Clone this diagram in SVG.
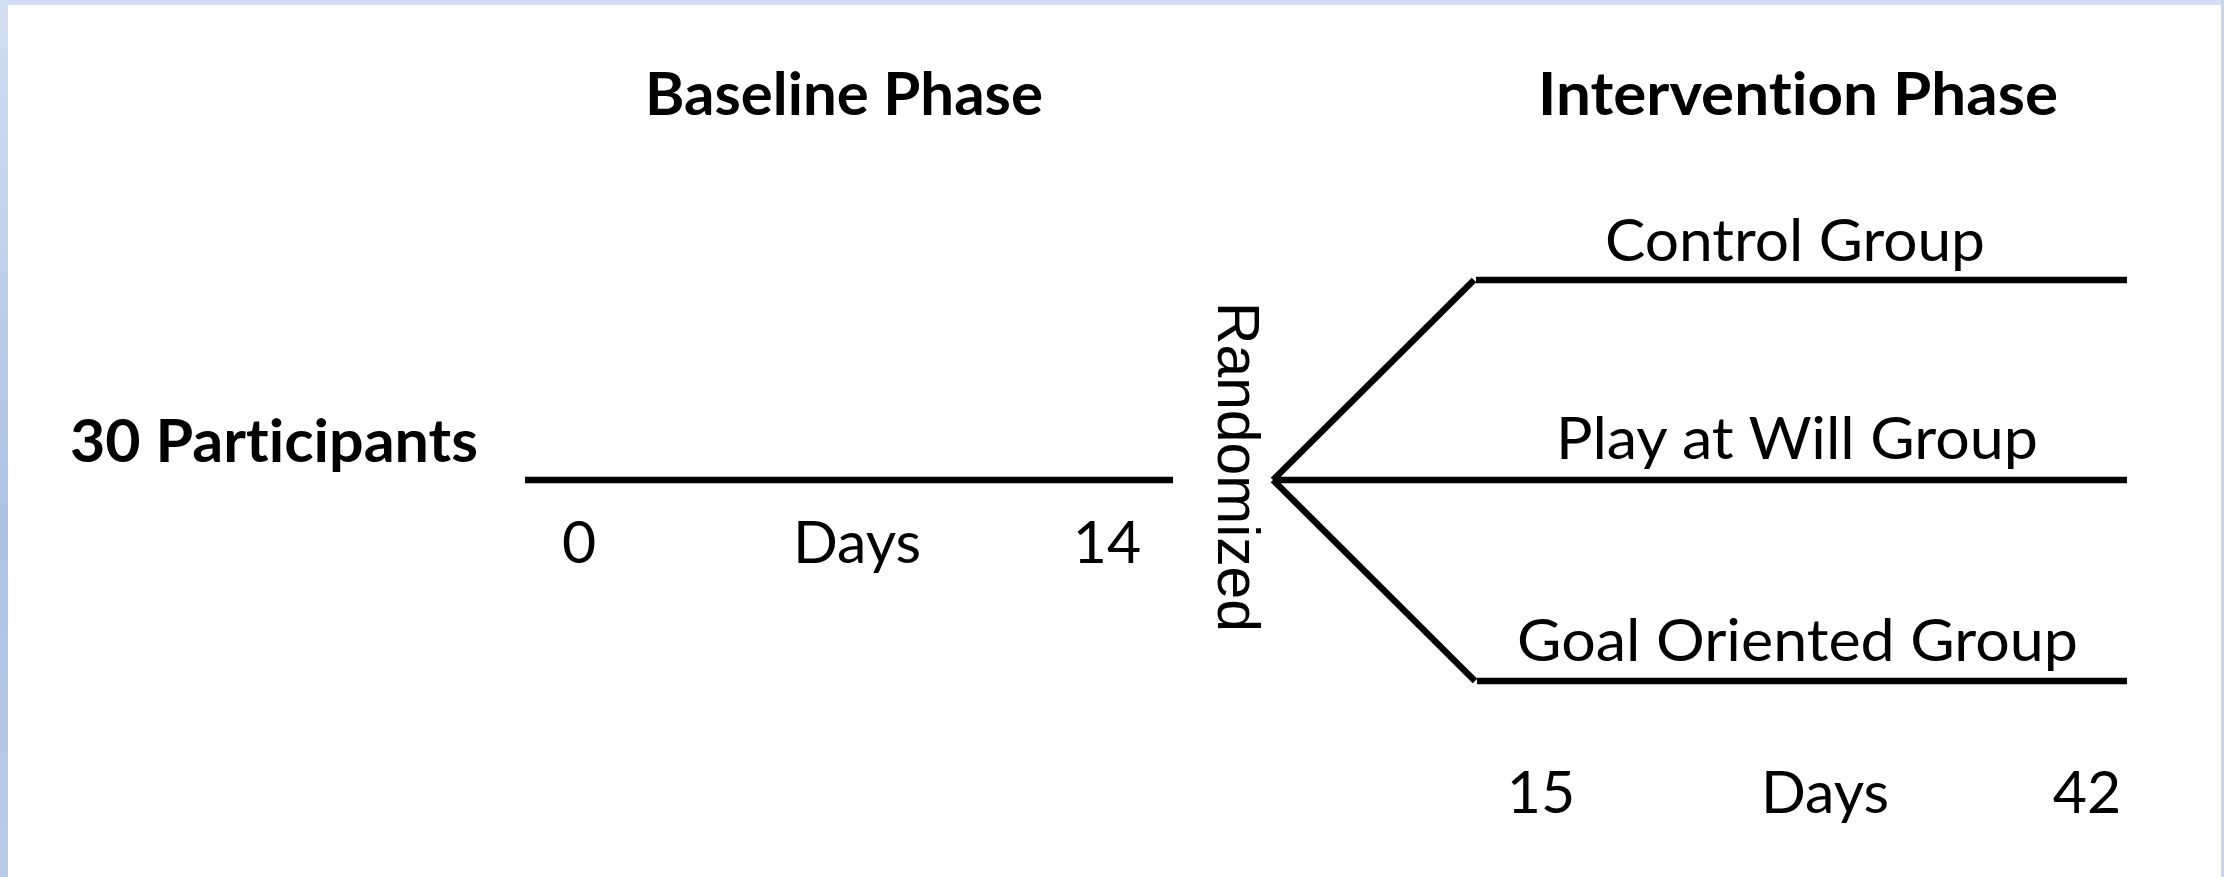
<svg xmlns="http://www.w3.org/2000/svg" width="2224" height="877" viewBox="0 0 2224 877">
  <defs>
    <linearGradient id="leftBand" x1="0" y1="0" x2="0" y2="1">
      <stop offset="0" stop-color="#d4def0"/>
      <stop offset="0.6" stop-color="#adc0e6"/>
      <stop offset="1" stop-color="#bccbea"/>
    </linearGradient>
    <style>
      .t { font-family: Lato, "Open Sans", "Liberation Sans", sans-serif; font-size: 59px; fill: #000; font-variant-ligatures: none; font-feature-settings: "liga" 0, "clig" 0; }
      .b { font-weight: bold; }
      .r { font-family: "Liberation Sans", Arial, sans-serif; font-size: 59px; fill: #000; }
      .ln { stroke: #000; stroke-width: 6.5; fill: none; stroke-linecap: butt; }
    </style>
  </defs>
  <rect x="0" y="0" width="2224" height="877" fill="#ffffff"/>
  <rect x="0" y="0" width="2224" height="5" fill="#d3ddef"/>
  <rect x="0" y="0" width="8" height="877" fill="url(#leftBand)"/>
  <rect x="2221" y="0" width="3" height="877" fill="#c9d6ee"/>

  <g id="baseline-phase-title">
    <text class="t b" x="645" y="115" textLength="398" lengthAdjust="spacingAndGlyphs">Baseline Phase</text>
  </g>
  <g id="intervention-phase-title">
    <text class="t b" x="1538" y="115" textLength="520" lengthAdjust="spacingAndGlyphs">Intervention Phase</text>
  </g>
  <g id="participants">
    <text class="t b" x="70" y="462" textLength="408" lengthAdjust="spacingAndGlyphs">30 Participants</text>
  </g>
  <g id="baseline-axis" text-anchor="middle">
    <text class="t" x="579" y="563">0</text>
    <text class="t" x="857" y="563">Days</text>
    <text class="t" x="1107" y="563">14</text>
  </g>
  <g id="randomized">
    <text class="r" transform="translate(1218,302) rotate(90)" textLength="330" lengthAdjust="spacingAndGlyphs">Randomized</text>
  </g>
  <g id="control-group">
    <text class="t" x="1605" y="261" textLength="380" lengthAdjust="spacingAndGlyphs">Control Group</text>
  </g>
  <g id="play-at-will-group">
    <text class="t" x="1556" y="459" textLength="482" lengthAdjust="spacingAndGlyphs">Play at Will Group</text>
  </g>
  <g id="goal-oriented-group">
    <text class="t" x="1517" y="661" textLength="561" lengthAdjust="spacingAndGlyphs">Goal Oriented Group</text>
  </g>
  <g id="intervention-axis" text-anchor="middle">
    <text class="t" x="1541" y="813">15</text>
    <text class="t" x="1825" y="813">Days</text>
    <text class="t" x="2087" y="813">42</text>
  </g>

  <g id="connectors">
    <line class="ln" x1="525" y1="480" x2="1173" y2="480"/>
    <line class="ln" x1="1273" y1="480" x2="1474" y2="280"/>
    <line class="ln" x1="1273" y1="480" x2="2127" y2="480"/>
    <line class="ln" x1="1273" y1="480" x2="1475" y2="681"/>
    <line class="ln" x1="1476" y1="280" x2="2127" y2="280"/>
    <line class="ln" x1="1477" y1="681" x2="2127" y2="681"/>
  </g>
</svg>
